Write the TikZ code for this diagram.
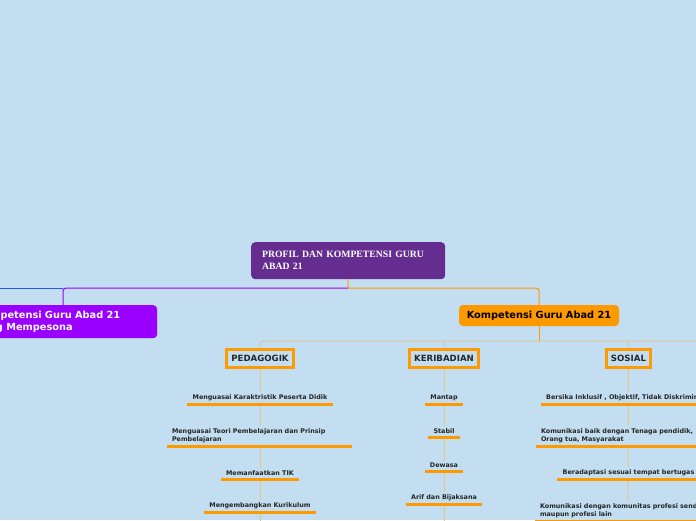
\documentclass[tikz,border=0pt]{standalone}
\usepackage{fontspec}
\newfontfamily\dvb{DejaVu Sans}[BoldFont={DejaVu Sans Bold}]
\newfontfamily\lsr{Liberation Serif}
\definecolor{bg}{HTML}{C2DEF0}
\definecolor{rootc}{HTML}{662D91}
\definecolor{violetc}{HTML}{9900FF}
\definecolor{orangec}{HTML}{FF9900}
\definecolor{tanc}{HTML}{DCC7A0}
\definecolor{colc}{HTML}{E4C58E}
\definecolor{bluec}{HTML}{1F5BE0}
\tikzset{
  rootbox/.style={fill=rootc, rounded corners=4pt, text=white, font=\lsr\bfseries\fontsize{9.7}{12}\selectfont, align=left, text width=172pt, inner xsep=11pt, minimum height=37pt, anchor=north west},
  branchbox/.style={rounded corners=4pt, font=\dvb\bfseries\fontsize{9.8}{12}\selectfont},
  catbox/.style={draw=orangec, line width=3pt, font=\dvb\bfseries\fontsize{8.6}{10}\selectfont, text=black!85, minimum height=18pt, inner xsep=4.5pt, fill=bg},
  itembox/.style={font=\dvb\bfseries\fontsize{6.4}{8}\selectfont, text=black!85, fill=bg, inner xsep=5pt, inner ysep=3pt, align=left, anchor=south},
  uline/.style={orangec, line width=3pt},
  conn/.style={line width=1pt},
  colline/.style={colc, line width=1pt},
}
\begin{document}
\begin{tikzpicture}[x=1pt,y=-1pt]
\useasboundingbox (0,0) rectangle (696,520);
\clip (0,0) rectangle (696,520);
\fill[bg] (0,0) rectangle (696,520);

% coordinates for junctions
\coordinate (j0) at (348,288);
\coordinate (jl) at (63,288);
\coordinate (jr) at (539,288);
\coordinate (offl) at (-20,288);
\coordinate (t1) at (539,341);
\coordinate (tL) at (260,341);
\coordinate (tR) at (720,341);
\coordinate (bP) at (260,530);
\coordinate (bK) at (444,530);
\coordinate (bS) at (628,530);

% main nodes
\node[rootbox] (root) at (251,242) {PROFIL DAN KOMPETENSI GURU\\ABAD 21};
\node[branchbox, fill=violetc, text=white, align=left, text width=173pt, inner xsep=8pt, minimum height=33pt, anchor=north west] (left) at (-32,305) {Kompetensi Guru Abad 21\\Yang Mempesona};
\node[branchbox, fill=orangec, text=black, minimum width=160pt, minimum height=21pt, inner sep=0pt] (right) at (539,315.5) {Kompetensi Guru Abad 21};

% category connectors (behind)
\draw[colline] (260,358) -- (bP);
\draw[colline] (444,358) -- (bK);
\draw[colline] (628.5,358) -- (bS);

\node[catbox] (ped) at (260,358) {PEDAGOGIK};
\node[catbox] (ker) at (444,358) {KERIBADIAN};
\node[catbox] (sos) at (628.5,358) {SOSIAL};

% connectors from root
\draw[conn, orangec] (root.south) -- (j0);
\draw[conn, violetc, rounded corners=3pt] (j0) -- (jl) -- (jl |- left.north);
\draw[conn, bluec] (jl) -- (offl);
\draw[conn, orangec, rounded corners=3pt] (j0) -- (jr) -- (right.north);
\draw[conn, orangec] (right.south) -- (t1);
\draw[conn, tanc, rounded corners=3pt] (ped.north) -- (tL) -- (tR);
\draw[conn, tanc, rounded corners=3pt] (ker.north) -- (444,341);
\draw[conn, tanc, rounded corners=3pt] (sos.north) -- (628.5,341);

% PEDAGOGIK items
\node[itembox] (p1) at (260,404) {Menguasai Karaktristik Peserta Didik};
\node[itembox, text width=175pt] (p2) at (259.5,446) {Menguasai Teori Pembelajaran dan Prinsip\\Pembelajaran};
\node[itembox] (p3) at (260,479) {Memanfaatkan TIK};
\node[itembox] (p4) at (260,512) {Mengembangkan Kurikulum};
% KERIBADIAN items
\node[itembox] (k1) at (444,404) {Mantap};
\node[itembox] (k2) at (444,437) {Stabil};
\node[itembox] (k3) at (444,471) {Dewasa};
\node[itembox] (k4) at (444,504) {Arif dan Bijaksana};
% SOSIAL items
\node[itembox] (s1) at (628.5,404) {Bersika Inklusif , Objektif, Tidak Diskriminatif};
\node[itembox, text width=175pt] (s2) at (628.5,446) {Komunikasi baik dengan Tenaga pendidik,\\Orang tua, Masyarakat};
\node[itembox] (s3) at (628.5,479) {Beradaptasi sesuai tempat bertugas};
\node[itembox, text width=177pt] (s4) at (628.5,521) {Komunikasi dengan komunitas profesi sendiri\\maupun profesi lain};

\foreach \n in {p1,p2,p3,p4,k1,k2,k3,k4,s1,s2,s3,s4}
  \draw[uline] (\n.south west) -- (\n.south east);
\end{tikzpicture}
\end{document}
